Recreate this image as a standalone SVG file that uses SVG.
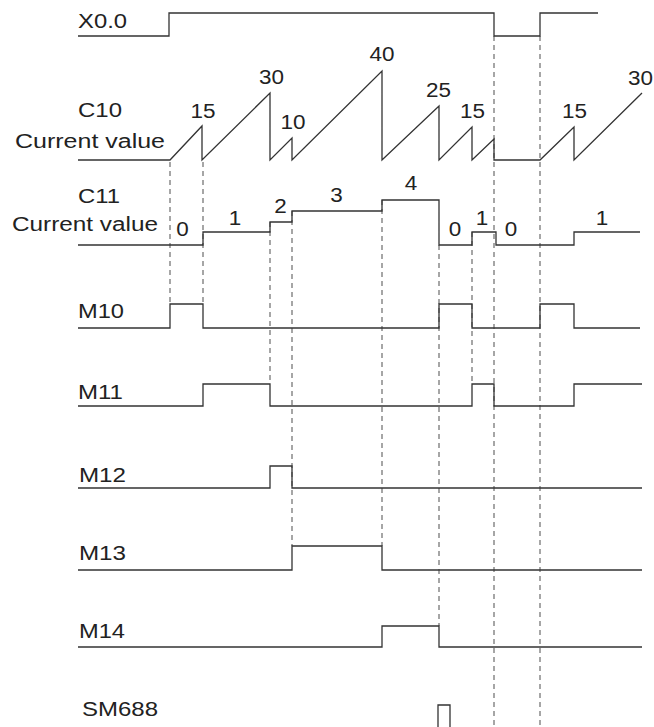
<svg xmlns="http://www.w3.org/2000/svg" width="654" height="727" viewBox="0 0 654 727">
<style>
.lbl{font-family:"Liberation Sans",Arial,sans-serif;font-size:19.5px;fill:#222}
.num{font-family:"Liberation Sans",Arial,sans-serif;font-size:19.5px;fill:#222;text-anchor:middle}
.wave{fill:none;stroke:#333;stroke-width:1.3}
.dash{fill:none;stroke:#777;stroke-width:1.3;stroke-dasharray:5,4}
</style>
<rect width="654" height="727" fill="#fff"/>
<g id="connectors">
<path class="dash" d="M170 162V304M203 162V304M270 222V384M292 211V546M382 200V546M439 245V626M472 232V384M494 36V727M540 36V727"/>
</g>
<g id="X0.0">
<text class="lbl" x="78" y="28" textLength="49" lengthAdjust="spacingAndGlyphs">X0.0</text>
<path class="wave" d="M78 36H169V13H494V36H540V13H598"/>
</g>
<g id="C10">
<text class="lbl" x="78" y="117" textLength="44" lengthAdjust="spacingAndGlyphs">C10</text>
<text class="lbl" x="15" y="148" textLength="150" lengthAdjust="spacingAndGlyphs">Current value</text>
<path class="wave" d="M78 160H170L202 126V160L270 93V160L292 138V160L382 71V160L439 106V160L472 127V160L494 139V160H540L574 127V160L642 93"/>
<text class="num" x="203" y="118" textLength="25" lengthAdjust="spacingAndGlyphs">15</text>
<text class="num" x="271.5" y="84" textLength="25" lengthAdjust="spacingAndGlyphs">30</text>
<text class="num" x="293" y="129" textLength="25" lengthAdjust="spacingAndGlyphs">10</text>
<text class="num" x="382" y="61" textLength="25" lengthAdjust="spacingAndGlyphs">40</text>
<text class="num" x="438.5" y="97" textLength="25" lengthAdjust="spacingAndGlyphs">25</text>
<text class="num" x="472.5" y="118" textLength="25" lengthAdjust="spacingAndGlyphs">15</text>
<text class="num" x="574.5" y="118" textLength="25" lengthAdjust="spacingAndGlyphs">15</text>
<text class="num" x="640.5" y="85" textLength="25" lengthAdjust="spacingAndGlyphs">30</text>
</g>
<g id="C11">
<text class="lbl" x="78" y="203" textLength="42" lengthAdjust="spacingAndGlyphs">C11</text>
<text class="lbl" x="12" y="231" textLength="146" lengthAdjust="spacingAndGlyphs">Current value</text>
<path class="wave" d="M78 245H203V232H270V222H292V211H382V200H439V245H472V232H496V245H574V232H640"/>
<text class="num" x="182.5" y="236" textLength="12.5" lengthAdjust="spacingAndGlyphs">0</text>
<text class="num" x="235" y="225" textLength="12.5" lengthAdjust="spacingAndGlyphs">1</text>
<text class="num" x="280.5" y="213" textLength="12.5" lengthAdjust="spacingAndGlyphs">2</text>
<text class="num" x="336.5" y="202" textLength="12.5" lengthAdjust="spacingAndGlyphs">3</text>
<text class="num" x="411" y="190" textLength="12.5" lengthAdjust="spacingAndGlyphs">4</text>
<text class="num" x="455" y="236" textLength="12.5" lengthAdjust="spacingAndGlyphs">0</text>
<text class="num" x="482" y="225" textLength="12.5" lengthAdjust="spacingAndGlyphs">1</text>
<text class="num" x="511" y="236" textLength="12.5" lengthAdjust="spacingAndGlyphs">0</text>
<text class="num" x="602" y="225" textLength="12.5" lengthAdjust="spacingAndGlyphs">1</text>
</g>
<g id="M10">
<text class="lbl" x="78" y="318" textLength="46" lengthAdjust="spacingAndGlyphs">M10</text>
<path class="wave" d="M78 328H170V304H203V328H439V304H472V328H540V304H574V328H640"/>
</g>
<g id="M11">
<text class="lbl" x="78" y="399" textLength="45" lengthAdjust="spacingAndGlyphs">M11</text>
<path class="wave" d="M78 406H203V384H270V406H472V384H494V406H574V384H642"/>
</g>
<g id="M12">
<text class="lbl" x="79" y="482" textLength="47" lengthAdjust="spacingAndGlyphs">M12</text>
<path class="wave" d="M78 488H270V466H292V488H642"/>
</g>
<g id="M13">
<text class="lbl" x="79" y="560" textLength="47" lengthAdjust="spacingAndGlyphs">M13</text>
<path class="wave" d="M78 570H292V546H382V570H642"/>
</g>
<g id="M14">
<text class="lbl" x="79" y="638" textLength="46" lengthAdjust="spacingAndGlyphs">M14</text>
<path class="wave" d="M78 647H382V626H439V647H642"/>
</g>
<g id="SM688">
<text class="lbl" x="82" y="716" textLength="76" lengthAdjust="spacingAndGlyphs">SM688</text>
<path class="wave" d="M438 727V705H450V727"/>
</g>
</svg>
